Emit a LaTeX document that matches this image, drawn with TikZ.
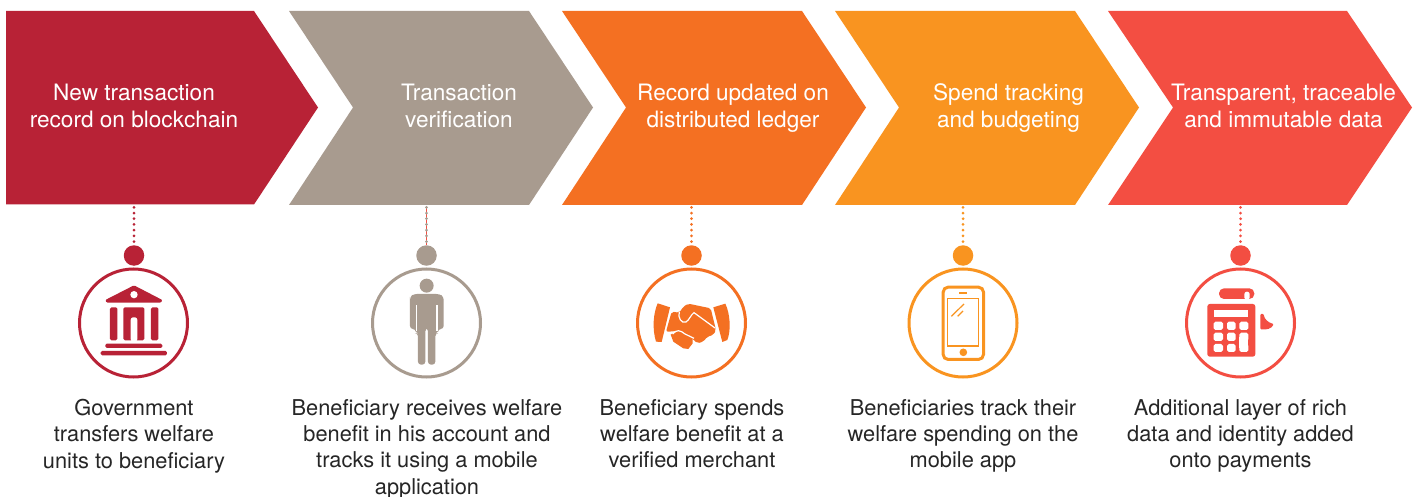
\documentclass[tikz,border=0pt]{standalone}
\usepackage{fontspec}
\setmainfont{TeX Gyre Heros}
\definecolor{cA}{HTML}{B82236}
\definecolor{cB}{HTML}{A89B8F}
\definecolor{cC}{HTML}{F47022}
\definecolor{cD}{HTML}{F99420}
\definecolor{cE}{HTML}{F34E42}
\definecolor{cLink}{HTML}{F34E42}
\newcommand{\hl}[1]{\strut #1}
\tikzset{
  head/.style={text=white,align=center,inner sep=0pt,font=\fontsize{22.6}{27}\selectfont},
  body/.style={text=black!85,align=center,inner sep=0pt,anchor=north,font=\fontsize{21.8}{26.3}\selectfont},
  bead/.style={circle,fill=#1,draw=none,minimum size=20.5pt,inner sep=0pt},
  ring/.style={circle,draw=#1,line width=3pt,fill=white,minimum size=108pt,inner sep=0pt},
  dots/.style={draw=#1,line width=3pt,line cap=round,dash pattern=on 0pt off 5.72pt},
  zoomed/.style={x=0.3333pt,y=-0.3333pt}
}
\begin{document}
\begin{tikzpicture}[x=1pt,y=-1pt]
\useasboundingbox[fill=white] (0,0) rectangle (1416,497);
% chevrons
\fill[cA] (6,11) -- (254,11) -- (318,107.5) -- (254,204.5) -- (6,204.5) -- cycle;
\fill[cB] (289,11) -- (529,11) -- (593,107.5) -- (529,205) -- (289,205) -- (353,107.5) -- cycle;
\fill[cC] (562,11) -- (802,11) -- (866,107.5) -- (802,205) -- (562,205) -- (626,107.5) -- cycle;
\fill[cD] (835,11) -- (1075,11) -- (1139,107.5) -- (1075,205) -- (835,205) -- (899,107.5) -- cycle;
\fill[cE] (1108,11) -- (1347,11) -- (1412,107.5) -- (1347,205) -- (1108,205) -- (1173,107.5) -- cycle;
% headings
\node[head] (h1) at (134,109) {\hl{New transaction}\\\hl{record on blockchain}};
\node[head] (h2) at (459,109) {\hl{Transaction}\\\hl{verification}};
\node[head] (h3) at (733,109) {\hl{Record updated on}\\\hl{distributed ledger}};
\node[head] (h4) at (1008.5,109) {\hl{Spend tracking}\\\hl{and budgeting}};
\node[head] (h5) at (1283.5,109) {\hl{Transparent, traceable}\\\hl{and immutable data}};
% beads and rings
\node[ring=cA] (r1) at (133.5,323) {};
\node[ring=cB] (r2) at (426.5,323) {};
\node[ring=cC] (r3) at (691.5,323) {};
\node[ring=cD] (r4) at (963,323) {};
\node[ring=cE] (r5) at (1240.5,323) {};
\node[bead=cA] (d1) at (134,255.5) {};
\node[bead=cB] (d2) at (426.5,255.5) {};
\node[bead=cC] (d3) at (691.5,255.5) {};
\node[bead=cD] (d4) at (963,255.5) {};
\node[bead=cE] (d5) at (1240.5,255.5) {};
\coordinate (t1) at (134,207.3);
\coordinate (t2) at (426.5,207.3);
\coordinate (t3) at (691.5,207.3);
\coordinate (t4) at (963,207.3);
\coordinate (t5) at (1240.5,207.3);
\draw[dots=cA] (t1) -- (d1);
\draw[cLink,line width=1pt] (t2) -- (d2);
\draw[dots=cB] (t2) -- (d2);
\draw[dots=cC] (t3) -- (d3);
\draw[dots=cD] (t4) -- (d4);
\draw[dots=cE] (t5) -- (d5);
% bank icon
\begin{scope}[shift={(60,200)},zoomed]
\fill[cA,rounded corners=1pt] (222,256) -- (307,300) -- (303,308) -- (140,308) -- (136,300) -- cycle;
\fill[white] (222,284) circle[radius=11];
\fill[cA,rounded corners=1.5pt] (150,322) rectangle (172,421);
\fill[cA,rounded corners=1.5pt] (273,322) rectangle (295,421);
\fill[cA,rounded corners=1.5pt] (190,322) rectangle (253,421);
\fill[white,rounded corners=2.5pt] (212,425) -- (212,352) -- (232,352) -- (232,425) -- cycle;
\fill[cA,rounded corners=1.5pt] (136,431) rectangle (307,444);
\fill[cA,rounded corners=1.5pt] (122,453) rectangle (321,466);
\end{scope}
% person icon
\begin{scope}[shift={(350,200)},zoomed]
\fill[cB] (230,257) circle[radius=21];
\fill[cB,rounded corners=3pt] (180,300) -- (180,290) -- (192,282) -- (268,282) -- (281,290) -- (281,387) -- (264,387) -- (264,400) -- (256,400) -- (256,494) -- (234,494) -- (234,385) -- (226,385) -- (226,494) -- (204,494) -- (204,400) -- (197,400) -- (197,387) -- (180,387) -- cycle;
\draw[white,line width=1.2pt] (200,316) -- (200,392);
\draw[white,line width=1.2pt] (261,316) -- (261,392);
\end{scope}
% handshake icon
\begin{scope}[shift={(620,200)},zoomed]
\fill[cC] (113,310) -- (150,322) -- (125,426) -- (108,425) .. controls (96,385) and (100,340) .. cycle;
\fill[cC] (280,322) -- (316,311) .. controls (330,340) and (334,390) .. (322,420) -- (307,426) -- cycle;
\fill[cC,rounded corners=2pt] (155,335) -- (178,338) -- (190,320) -- (205,311) -- (272,325) -- (288,390) -- (280,405) -- (262,410) -- (250,425) -- (232,430) -- (205,405) -- (175,392) -- (150,395) -- (138,395) -- cycle;
\draw[white,line width=1.2pt,line cap=round] (178,336) .. controls (172,352) and (185,372) .. (198,366) .. controls (208,360) and (212,345) .. (222,338) -- (285,384);
\fill[cC] (152,404) -- (175,392) -- (218,412) -- (218,430) -- (205,447) -- (190,445) -- (160,425) -- cycle;
\draw[white,line width=1.2pt] (138,396) -- (155,419);
\draw[white,line width=1.2pt] (158,402) .. controls (170,388) and (180,390) .. (195,402) -- (222,415);
\end{scope}
% phone icon
\begin{scope}[shift={(890,200)},zoomed]
\draw[cD,line width=3pt,rounded corners=5pt] (159.5,261.5) rectangle (280.5,478.5);
\draw[cD,line width=1.4pt] (172,296) rectangle (266,438);
\draw[cD,line width=1.2pt] (208,279) -- (232,279);
\fill[cD] (220,457) circle[radius=11.5];
\draw[cD,line width=1.2pt] (184,349) -- (222,312);
\draw[cD,line width=1.2pt] (203,349) -- (219,333);
\end{scope}
% calculator icon
\begin{scope}[shift={(1165,200)},zoomed]
\fill[cE,rounded corners=5pt] (162,297) -- (162,265) -- (268,265) -- (268,297) -- cycle;
\fill[white,rounded corners=2.5pt] (238,300) -- (238,275) -- (254,275) -- (254,300) -- cycle;
\fill[cE,rounded corners=2.5pt] (127,312) rectangle (271,470);
\fill[white] (146,329) rectangle (250,352);
\foreach \xa/\xb in {146/174,186/212,223/250}
  \foreach \ya/\yb in {365/390,398/423,432/456}
    \fill[white,rounded corners=1.8pt] (\xa,\ya) rectangle (\xb,\yb);
\fill[white] (223,410) rectangle (250,445);
\fill[cE,rounded corners=1pt] (286,342) -- (296,342) .. controls (298,358) and (310,368) .. (326,372) .. controls (320,386) and (305,390) .. (286,388) -- cycle;
\end{scope}
% body text
\node[body] (b1) at (134,399) {Government\\transfers welfare\\units to beneficiary};
\node[body] (b2) at (427,399) {Beneficiary receives welfare\\benefit in his account and\\tracks it using a mobile\\application};
\node[body] (b3) at (692,399) {Beneficiary spends\\welfare benefit at a\\verified merchant};
\node[body] (b4) at (963,399) {Beneficiaries track their\\welfare spending on the\\mobile app};
\node[body] (b5) at (1240.5,399) {Additional layer of rich\\data and identity added\\onto payments};
\end{tikzpicture}
\end{document}
